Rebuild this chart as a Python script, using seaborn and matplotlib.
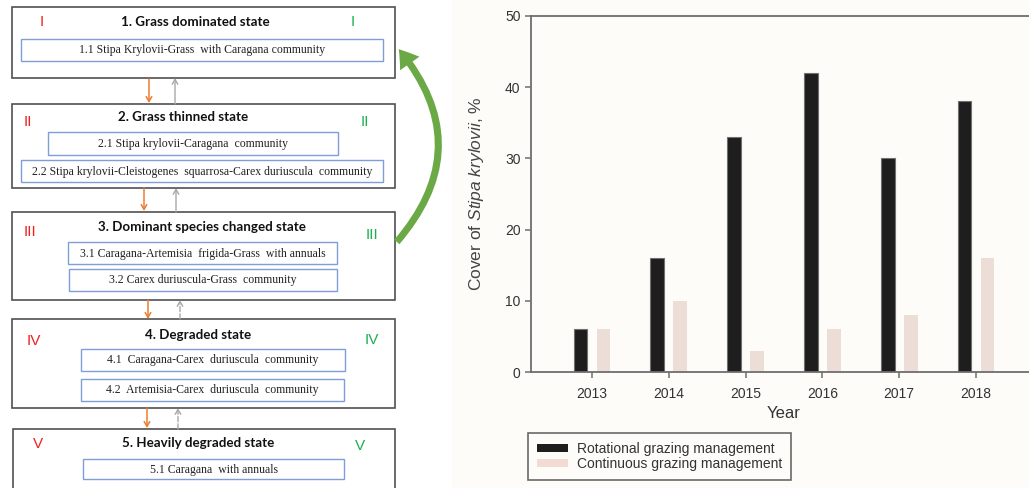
import pandas as pd
import matplotlib.pyplot as plt
import seaborn as sns
from matplotlib.patches import Rectangle, Patch, FancyArrowPatch

# ---- data: bar chart ----
years = ["2013", "2014", "2015", "2016", "2017", "2018"]
rotational = [6, 16, 33, 42, 30, 38]
continuous = [6, 10, 3, 6, 8, 16]
series_names = ["Rotational grazing management", "Continuous grazing management"]

# ---- data: state-and-transition diagram ----
state_titles = [
    "1. Grass dominated state",
    "2. Grass thinned state",
    "3. Dominant species changed state",
    "4. Degraded state",
    "5. Heavily degraded state",
]
numerals = ["I", "II", "III", "IV", "V"]
communities = [
    ["1.1 Stipa Krylovii-Grass  with Caragana community"],
    ["2.1 Stipa krylovii-Caragana  community",
     "2.2 Stipa krylovii-Cleistogenes  squarrosa-Carex duriuscula  community"],
    ["3.1 Caragana-Artemisia  frigida-Grass  with annuals",
     "3.2 Carex duriuscula-Grass  community"],
    ["4.1  Caragana-Carex  duriuscula  community",
     "4.2  Artemisia-Carex  duriuscula  community"],
    ["5.1 Caragana  with annuals"],
]

# ---- layout of the diagram (pixel coords, y down) ----
outer_boxes = [(12, 7, 395, 78), (12, 104, 395, 188), (12, 212, 395, 300),
               (12, 319, 395, 408), (13, 429, 395, 520)]
title_pos = [(195, 22), (183, 117), (202, 227), (198, 335), (198, 443)]
red_pos = [(42, 22), (28, 122), (30, 232), (34, 341), (38, 444)]
green_pos = [(353, 22), (365, 122), (372, 235), (372, 340), (360, 446)]
inner_boxes = [
    [(21, 39, 383, 61)],
    [(48, 132, 338, 155), (21, 160, 383, 182)],
    [(68, 242, 337, 264), (69, 269, 337, 291)],
    [(81, 349, 345, 371), (81, 379, 344, 401)],
    [(83, 459, 344, 479)],
]
down_arrows = [(149, 79, 103), (144, 188, 211), (148, 300, 319), (147, 408, 428)]
up_arrows = [(175, 104, 78, "-"), (176, 212, 188, "-"), (180, 319, 300, "--"), (178, 429, 408, "--")]

sns.set_style("ticks")
plt.rcParams["font.family"] = ["Liberation Sans", "DejaVu Sans"]
plt.rcParams["mathtext.fontset"] = "custom"
plt.rcParams["mathtext.rm"] = "Liberation Sans"
plt.rcParams["mathtext.it"] = "Liberation Sans:italic"

W, H = 1029, 488
fig = plt.figure(figsize=(W / 100, H / 100), dpi=100, facecolor="white")
cream = "#FDFCF8"
fig.patches.append(Rectangle((452 / W, 0), 1 - 452 / W, 1, transform=fig.transFigure,
                             facecolor=cream, edgecolor="none", zorder=-5))

# ---------------- left: diagram ----------------
ax0 = fig.add_axes([0, 0, 460 / W, 1])
ax0.set_xlim(0, 460)
ax0.set_ylim(H, 0)
ax0.axis("off")

for i, (x0, y0, x1, y1) in enumerate(outer_boxes):
    ax0.add_patch(Rectangle((x0, y0), x1 - x0, y1 - y0, facecolor="white",
                            edgecolor="#505050", lw=1.2))
    ax0.text(*title_pos[i], state_titles[i], family=["Lato", "DejaVu Sans"],
             weight="bold", fontsize=9.6, ha="center", va="center", color="#111111")
    ax0.text(*red_pos[i], numerals[i], family=["Liberation Sans", "DejaVu Sans"], fontsize=11,
             ha="center", va="center", color="#F02020")
    ax0.text(*green_pos[i], numerals[i], family=["Liberation Sans", "DejaVu Sans"], fontsize=11,
             ha="center", va="center", color="#1DB04E")
    for (bx0, by0, bx1, by1), label in zip(inner_boxes[i], communities[i]):
        ax0.add_patch(Rectangle((bx0, by0), bx1 - bx0, by1 - by0, facecolor="white",
                                edgecolor="#7F9DD8", lw=1.0))
        ax0.text((bx0 + bx1) / 2, (by0 + by1) / 2 + 0.5, label,
                 family=["Liberation Serif", "DejaVu Serif"], fontsize=8.5,
                 ha="center", va="center", color="#222222")

for x, ya, yb in down_arrows:
    ax0.annotate("", xy=(x, yb), xytext=(x, ya),
                 arrowprops=dict(arrowstyle="->,head_length=0.35,head_width=0.2",
                                 color="#ED7D31", lw=1.1, shrinkA=0, shrinkB=0))
for x, ya, yb, ls in up_arrows:
    ax0.annotate("", xy=(x, yb), xytext=(x, ya),
                 arrowprops=dict(arrowstyle="->,head_length=0.35,head_width=0.2",
                                 color="#A8A8A8", lw=1.0, ls=ls, shrinkA=0, shrinkB=0))

green_arrow = FancyArrowPatch((395, 244), (397, 47), connectionstyle="arc3,rad=0.43",
                              arrowstyle="simple,head_width=1.7,head_length=1.3,tail_width=0.5",
                              mutation_scale=10, color="#6BA846", lw=0)
ax0.add_patch(green_arrow)

# ---------------- right: bar chart ----------------
df = pd.DataFrame({
    "Year": years * 2,
    "Cover": rotational + continuous,
    "Management": [series_names[0]] * len(years) + [series_names[1]] * len(years),
})
palette = {series_names[0]: "#1E1E1E", series_names[1]: "#F1DBD3"}

left, right, top, bottom = 531, 1037, 16, 372
ax = fig.add_axes([left / W, 1 - bottom / H, (right - left) / W, (bottom - top) / H])
ax.set_facecolor(cream)
sns.barplot(data=df, x="Year", y="Cover", hue="Management", hue_order=series_names,
            palette=palette, width=0.6, gap=0.4, legend=False, linewidth=0, ax=ax)
for bar in ax.containers[0]:
    bar.set_edgecolor("#707070")
    bar.set_linewidth(0.8)

ax.set_xlim(-0.794, 5.794)
ax.set_ylim(0, 50)
ax.set_yticks(range(0, 51, 10))
for side in ["left", "right", "top", "bottom"]:
    ax.spines[side].set_visible(True)
    ax.spines[side].set_color("#6E6E6E")
    ax.spines[side].set_linewidth(1.3)
ax.tick_params(axis="both", colors="#6E6E6E", length=4.5, width=1.1, labelsize=10,
               labelcolor="#333333", pad=3)
ax.tick_params(axis="x", pad=6)
ax.set_ylabel("Cover of $\\it{Stipa\\ krylovii}$, %", fontsize=12.5, color="#444444",
              labelpad=14)
ax.set_xlabel("Year", fontsize=12, color="#333333", labelpad=4)

handles = [Patch(facecolor=palette[n], edgecolor="none") for n in series_names]
leg = fig.legend(handles, series_names, loc="upper left",
                 bbox_to_anchor=(528 / W, 1 - 433 / H), bbox_transform=fig.transFigure,
                 fontsize=10, frameon=True, fancybox=False, borderaxespad=0,
                 borderpad=0.65, labelspacing=0.05, handlelength=2.2, handleheight=0.5,
                 handletextpad=0.65)
leg.get_frame().set_edgecolor("#444444")
leg.get_frame().set_linewidth(1.2)
leg.get_frame().set_facecolor(cream)
for t in leg.get_texts():
    t.set_color("#333333")

fig.savefig("out.png", dpi=100, facecolor=fig.get_facecolor())
